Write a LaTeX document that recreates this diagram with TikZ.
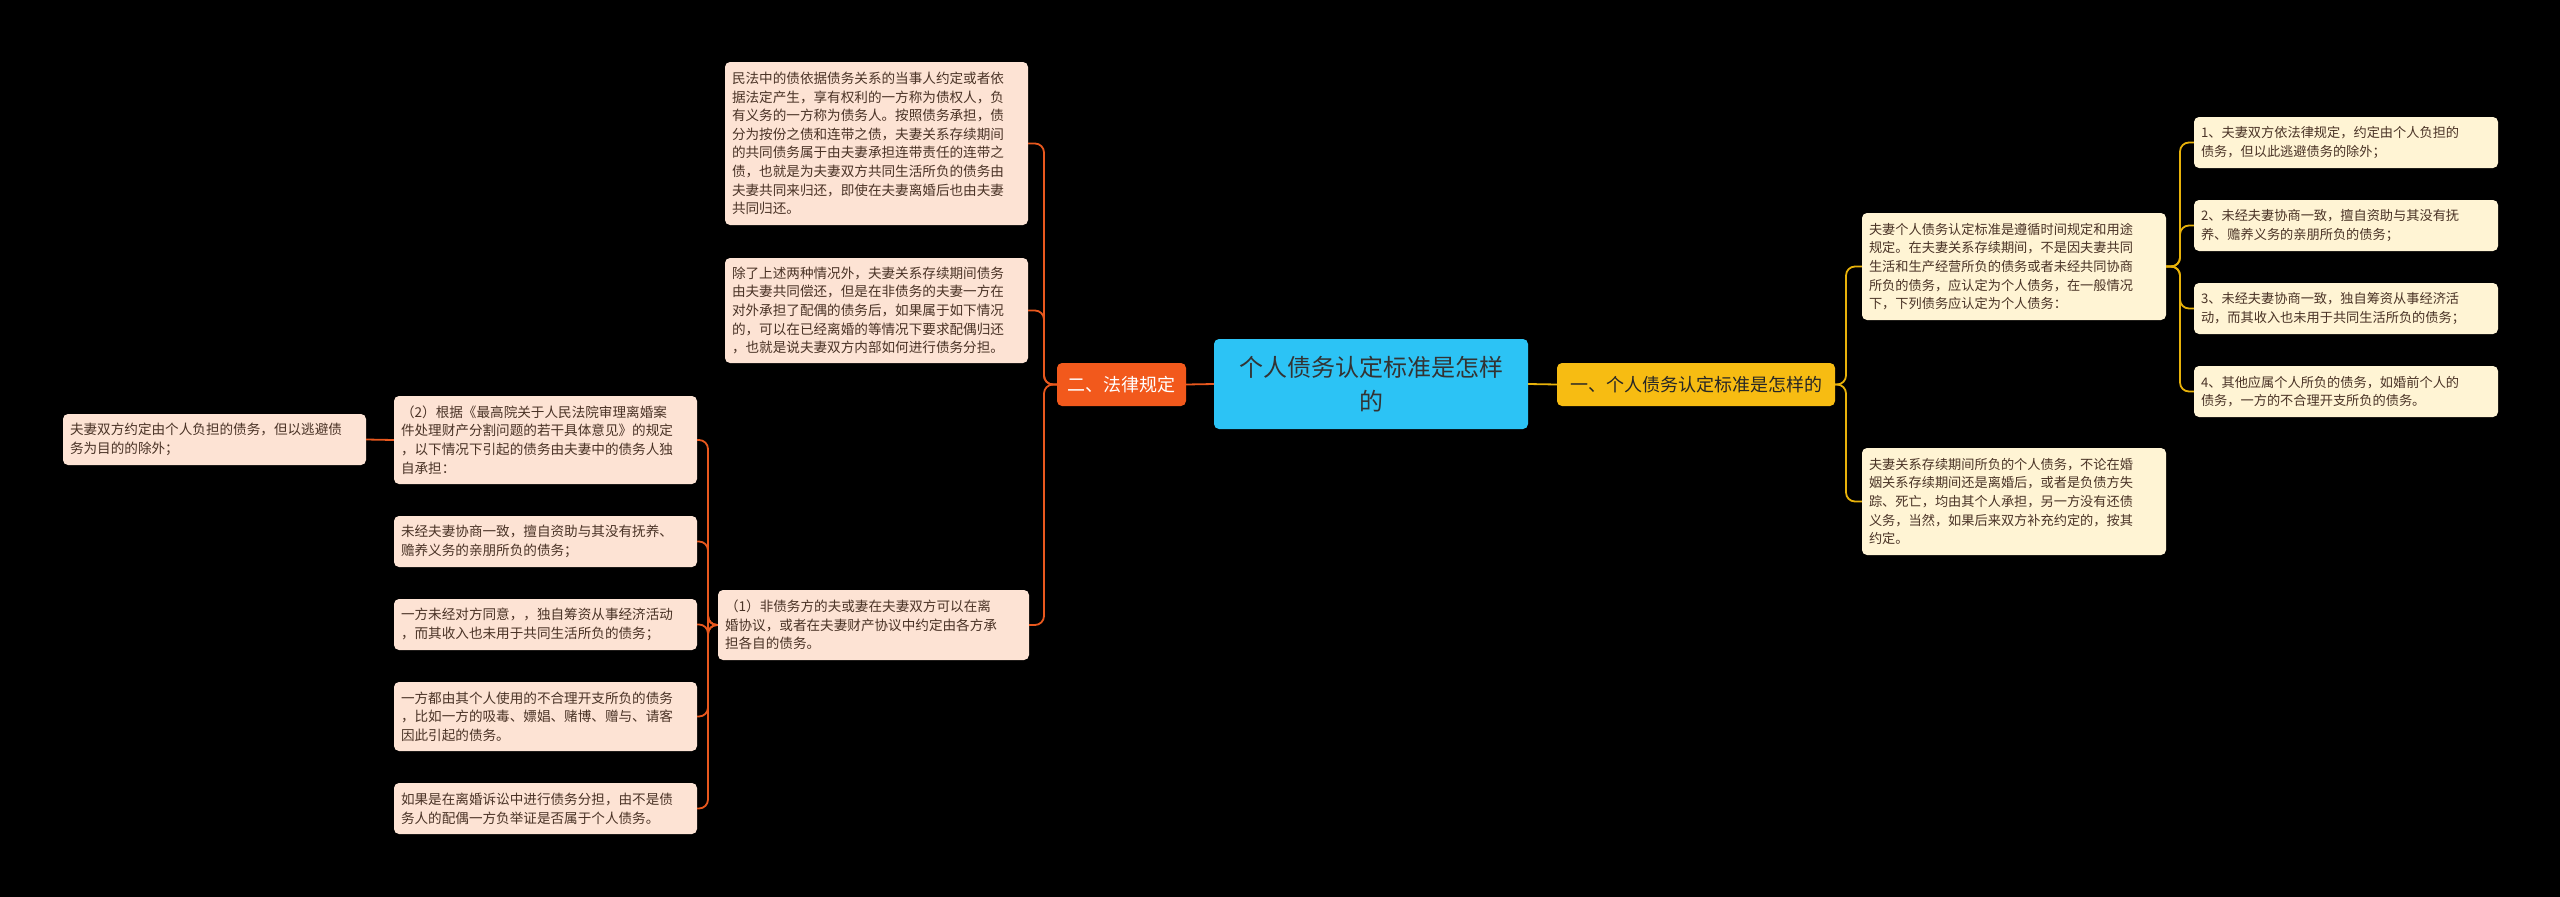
\documentclass[tikz,border=0pt]{standalone}
\usepackage{fontspec}
\setmainfont{Noto Sans CJK SC}
\definecolor{bg}{HTML}{000000}
\definecolor{ctr}{HTML}{2CC3F5}
\definecolor{org}{HTML}{F2591C}
\definecolor{gld}{HTML}{F7BC12}
\definecolor{pch}{HTML}{FDE3D4}
\definecolor{ylw}{HTML}{FFF4D4}
\definecolor{tx}{HTML}{4A3326}
\definecolor{oln}{HTML}{E8581E}
\definecolor{gln}{HTML}{E8B20A}
\newcommand\bx[7]{\node[#7, minimum width={#4pt-#2pt}, minimum height={#5pt-#3pt}, text width={#4pt-#2pt-14pt}] (#1) at ({(#2+#4)/2},{(#3+#5)/2}) {#6};}
\begin{document}
\begin{tikzpicture}[x=1pt,y=-1pt,
  base/.style={rounded corners=5pt, inner sep=0pt, align=left},
  lf/.style={base, fill=pch, text=tx, font=\fontsize{13.6}{18.6}\selectfont},
  rf/.style={base, fill=ylw, text=tx, font=\fontsize{13.2}{18.6}\selectfont},
  oline/.style={draw=oln, line width=1.8pt, rounded corners=9pt},
  gline/.style={draw=gln, line width=1.8pt, rounded corners=9pt}]
\fill[bg] (0,0) rectangle (2560,897);
\useasboundingbox (0,0) rectangle (2560,897);
% center and level 1
\node[rounded corners=5pt, fill=ctr, text=black!80, font=\fontsize{24}{34}\selectfont, align=center, minimum width=314pt, minimum height=90pt, inner sep=0pt] (c) at (1371,384) {个人债务认定标准是怎样\\的};
\node[rounded corners=5pt, fill=org, text=white, font=\fontsize{18}{22}\selectfont, minimum width=129pt, minimum height=43pt, inner sep=0pt] (lb) at (1121.5,384.5) {二、法律规定};
\node[rounded corners=5pt, fill=gld, text=black!85, font=\fontsize{18}{22}\selectfont, minimum width=278pt, minimum height=43pt, inner sep=0pt] (rb) at (1696,384.5) {一、个人债务认定标准是怎样的};
\draw[oline] (c.west) -- (lb.east);
\draw[gline] (c.east) -- (rb.west);
% right side
\bx{ra}{1862}{213}{2166}{320}{夫妻个人债务认定标准是遵循时间规定和用途\\规定。在夫妻关系存续期间，不是因夫妻共同\\生活和生产经营所负的债务或者未经共同协商\\所负的债务，应认定为个人债务，在一般情况\\下，下列债务应认定为个人债务：}{rf}
\bx{rb2}{1862}{448}{2166}{555}{夫妻关系存续期间所负的个人债务，不论在婚\\姻关系存续期间还是离婚后，或者是负债方失\\踪、死亡，均由其个人承担，另一方没有还债\\义务，当然，如果后来双方补充约定的，按其\\约定。}{rf}
\bx{r1}{2194}{117}{2498}{168}{1、夫妻双方依法律规定，约定由个人负担的\\债务，但以此逃避债务的除外；}{rf}
\bx{r2}{2194}{200}{2498}{251}{2、未经夫妻协商一致，擅自资助与其没有抚\\养、赡养义务的亲朋所负的债务；}{rf}
\bx{r3}{2194}{283}{2498}{334}{3、未经夫妻协商一致，独自筹资从事经济活\\动，而其收入也未用于共同生活所负的债务；}{rf}
\bx{r4}{2194}{366}{2498}{417}{4、其他应属个人所负的债务，如婚前个人的\\债务，一方的不合理开支所负的债务。}{rf}
\foreach \n in {ra,rb2} \draw[gline] (rb.east) -- (1846,384.5) |- (\n.west);
\foreach \n in {r1,r2,r3,r4} \draw[gline] (ra.east) -- (2180,266.5) |- (\n.west);
% left side
\bx{la}{725}{62}{1028}{225}{民法中的债依据债务关系的当事人约定或者依\\据法定产生，享有权利的一方称为债权人，负\\有义务的一方称为债务人。按照债务承担，债\\分为按份之债和连带之债，夫妻关系存续期间\\的共同债务属于由夫妻承担连带责任的连带之\\债，也就是为夫妻双方共同生活所负的债务由\\夫妻共同来归还，即使在夫妻离婚后也由夫妻\\共同归还。}{lf}
\bx{lb2}{725}{258}{1028}{363}{除了上述两种情况外，夫妻关系存续期间债务\\由夫妻共同偿还，但是在非债务的夫妻一方在\\对外承担了配偶的债务后，如果属于如下情况\\的，可以在已经离婚的等情况下要求配偶归还\\，也就是说夫妻双方内部如何进行债务分担。}{lf}
\bx{lc}{718}{590}{1029}{660}{（1）非债务方的夫或妻在夫妻双方可以在离\\婚协议，或者在夫妻财产协议中约定由各方承\\担各自的债务。}{lf}
\foreach \n in {la,lb2,lc} \draw[oline] (lb.west) -- (1044,384.5) |- (\n.east);
\bx{l1}{394}{396}{697}{484}{（2）根据《最高院关于人民法院审理离婚案\\件处理财产分割问题的若干具体意见》的规定\\，以下情况下引起的债务由夫妻中的债务人独\\自承担：}{lf}
\bx{l2}{394}{516}{697}{567}{未经夫妻协商一致，擅自资助与其没有抚养、\\赡养义务的亲朋所负的债务；}{lf}
\bx{l3}{394}{599}{697}{650}{一方未经对方同意，，独自筹资从事经济活动\\，而其收入也未用于共同生活所负的债务；}{lf}
\bx{l4}{394}{682}{697}{751}{一方都由其个人使用的不合理开支所负的债务\\，比如一方的吸毒、嫖娼、赌博、赠与、请客\\因此引起的债务。}{lf}
\bx{l5}{394}{783}{697}{834}{如果是在离婚诉讼中进行债务分担，由不是债\\务人的配偶一方负举证是否属于个人债务。}{lf}
\foreach \n in {l1,l2,l3,l4,l5} \draw[oline] (lc.west) -- (708,625) |- (\n.east);
\bx{m1}{63}{414}{366}{465}{夫妻双方约定由个人负担的债务，但以逃避债\\务为目的的除外；}{lf}
\draw[oline] (l1.west) -- (m1.east);
\end{tikzpicture}
\end{document}
